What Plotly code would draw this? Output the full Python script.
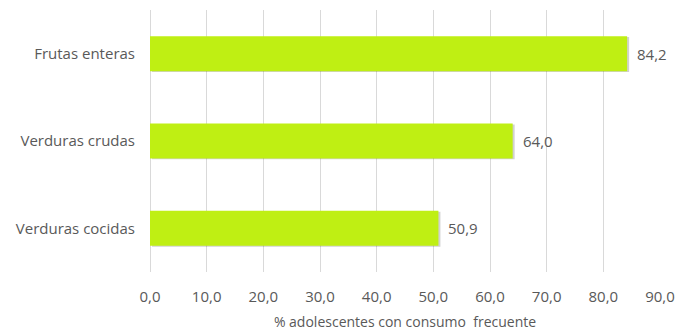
import plotly.graph_objects as go

# Consumo frecuente de frutas y verduras en adolescentes (%)
categorias = ["Verduras cocidas", "Verduras crudas", "Frutas enteras"]
valores = [50.9, 64.0, 84.2]
ticks = [0, 10, 20, 30, 40, 50, 60, 70, 80, 90]

verde = "rgb(191,239,19)"
gris_texto = "#595959"
fuente = "Open Sans"

fig = go.Figure()

# sombra suave bajo cada barra
fig.add_trace(go.Bar(
    y=categorias, x=valores, orientation="h",
    width=0.40, offset=-0.21, base=0.35,
    marker=dict(color="rgba(0,0,0,0.18)", line=dict(width=0)),
    hoverinfo="skip", showlegend=False,
))

fig.add_trace(go.Bar(
    y=categorias, x=valores, orientation="h",
    width=0.40, offset=-0.20,
    marker=dict(color=verde, line=dict(width=0)),
    showlegend=False,
))

for cat, val in zip(categorias, valores):
    fig.add_annotation(
        x=val, y=cat, text=f"{val:.1f}".replace(".", ","),
        xanchor="left", yanchor="middle", xshift=8, showarrow=False,
        font=dict(family=fuente, size=15, color=gris_texto),
    )

fig.update_layout(
    width=679, height=331,
    margin=dict(l=150, r=19, t=10, b=59, autoexpand=False),
    paper_bgcolor="white", plot_bgcolor="white",
    barmode="overlay", bargap=0.6,
    separators=",.",
    font=dict(family=fuente, size=14, color=gris_texto),
    xaxis=dict(
        range=[0, 90], tickvals=ticks, tickformat=".1f",
        automargin=False,
        showgrid=True, gridcolor="#d9d9d9", gridwidth=1,
        zeroline=True, zerolinecolor="#d9d9d9", zerolinewidth=1,
        showline=False, ticks="", ticklabelstandoff=14,
        title=dict(text="% adolescentes con consumo  frecuente",
                   font=dict(size=14, color=gris_texto), standoff=12),
        tickfont=dict(size=15, color=gris_texto),
    ),
    yaxis=dict(
        automargin=False,
        showgrid=False, showline=False, zeroline=False, ticks="",
        ticklabelstandoff=14,
        tickfont=dict(size=15, color=gris_texto),
    ),
)

fig.write_html("out.html")
